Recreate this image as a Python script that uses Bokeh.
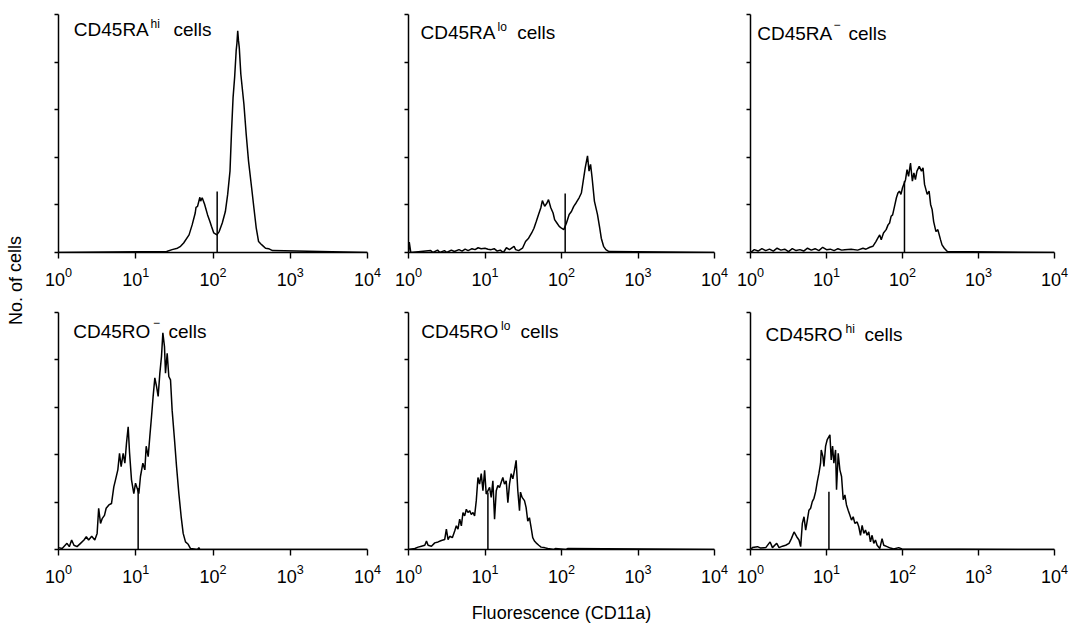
from bokeh.plotting import figure
from bokeh.layouts import row, column
from bokeh.models import Range1d, FixedTicker, Label
from bokeh.embed import file_html
from bokeh.resources import INLINE
from bokeh.core.properties import value

# ---------------- data ----------------
x_tick_values = [1, 10, 100, 1000, 10000]
y_tick_values = [0, 1, 2, 3, 4, 5]

panel_names = ["CD45RA", "CD45RA", "CD45RA", "CD45RO", "CD45RO", "CD45RO"]
panel_sups = ["hi", "lo", "\u2212", "\u2212", "lo", "hi"]
panel_suffix = "cells"
x_axis_title = "Fluorescence (CD11a)"
y_axis_title = "No. of cells"

# channel position in decades (log10 fluorescence) and cell counts (in y-tick units)
ra_hi_logfl = [0.0, 1.40, 1.47, 1.54, 1.58, 1.62, 1.69, 1.73, 1.77, 1.78, 1.80, 1.83,
               1.84, 1.86, 1.89, 1.93, 1.96, 1.98, 2.01, 2.05, 2.08, 2.12, 2.16, 2.19,
               2.22, 2.24, 2.26, 2.28, 2.30, 2.31, 2.32, 2.33, 2.34, 2.36, 2.40, 2.43,
               2.46, 2.50, 2.53, 2.56, 2.59, 2.62, 2.64, 2.68, 2.72, 2.77, 4.0]
ra_hi_count = [0.0, 0.02, 0.06, 0.09, 0.13, 0.20, 0.37, 0.58, 0.83, 0.95, 0.97, 1.16,
               1.08, 1.15, 1.02, 0.79, 0.65, 0.55, 0.41, 0.37, 0.44, 0.62, 0.86, 1.22,
               1.71, 2.55, 3.26, 3.68, 4.24, 4.40, 4.66, 4.45, 4.31, 3.75, 3.12, 2.48,
               1.92, 1.36, 0.93, 0.51, 0.23, 0.18, 0.15, 0.09, 0.08, 0.04, 0.0]

ra_lo_logfl = [0.0, 0.01, 0.03, 0.29, 0.32, 0.38, 0.41, 0.47, 0.50, 0.56,
               0.60, 0.66, 0.70, 0.74, 0.78, 0.83, 0.87, 0.91, 0.95, 1.00,
               1.04, 1.08, 1.12, 1.16, 1.20, 1.24, 1.28, 1.32,
               1.38, 1.40, 1.44, 1.49, 1.53, 1.57, 1.61, 1.64, 1.67, 1.70,
               1.73, 1.75, 1.78, 1.81, 1.83, 1.86, 1.89, 1.91, 1.94, 1.97,
               2.00, 2.03, 2.065, 2.10, 2.13, 2.16, 2.19, 2.23, 2.26, 2.29,
               2.31, 2.34, 2.36, 2.38, 2.40, 2.43, 2.47, 2.50, 2.52, 2.55,
               2.58, 2.62, 4.0]
ra_lo_count = [0.0, 0.22, 0.0, 0.04, 0.0, 0.05, 0.0, 0.04, 0.0, 0.05,
               0.02, 0.06, 0.03, 0.07, 0.04, 0.08, 0.06, 0.10, 0.08, 0.09,
               0.07, 0.06, 0.08, 0.03, 0.05, 0.0, 0.10, 0.06,
               0.13, 0.06, 0.04, 0.09, 0.23, 0.30, 0.41, 0.51, 0.65, 0.80,
               0.94, 1.09, 0.97, 1.04, 1.11, 0.94, 0.83, 0.69, 0.62, 0.55,
               0.51, 0.48, 0.62, 0.80, 0.86, 0.97, 1.04, 1.15, 1.25, 1.57,
               1.78, 2.03, 1.71, 1.85, 1.57, 1.08, 0.80, 0.51, 0.30, 0.13,
               0.06, 0.02, 0.0]

ra_neg_logfl = [0.0, 0.05, 0.10, 0.15, 0.20, 0.25, 0.30, 0.35, 0.40, 0.45,
                0.50, 0.55, 0.60, 0.65, 0.70, 0.75, 0.80, 0.85, 0.90, 0.95,
                1.00, 1.05, 1.10, 1.15, 1.20, 1.24,
                1.325, 1.41, 1.48, 1.52, 1.57, 1.61, 1.65, 1.675, 1.70, 1.72,
                1.75, 1.785, 1.81, 1.83, 1.85, 1.87, 1.895, 1.92, 1.94, 1.96,
                1.98, 2.00, 2.04, 2.06, 2.08, 2.105, 2.13, 2.15, 2.17, 2.19,
                2.22, 2.25, 2.27, 2.29, 2.325, 2.35, 2.37, 2.39, 2.41, 2.44,
                2.465, 2.50, 2.52, 2.55, 2.59, 4.0]
ra_neg_count = [0.0, 0.06, 0.03, 0.08, 0.04, 0.07, 0.03, 0.09, 0.05, 0.07,
                0.02, 0.08, 0.04, 0.06, 0.03, 0.09, 0.05, 0.08, 0.04, 0.11,
                0.06, 0.07, 0.04, 0.08, 0.05, 0.06,
                0.07, 0.05, 0.09, 0.07, 0.11, 0.13, 0.23, 0.30, 0.37, 0.27,
                0.41, 0.48, 0.58, 0.62, 0.76, 0.79, 0.97, 1.15, 1.25, 1.29,
                1.22, 1.36, 1.53, 1.74, 1.60, 1.88, 1.50, 1.67, 1.53, 1.71,
                1.81, 1.71, 1.78, 1.43, 1.22, 1.29, 1.01, 0.90, 0.65, 0.44,
                0.48, 0.27, 0.16, 0.09, 0.02, 0.0]

ro_neg_logfl = [0.0, 0.047, 0.11, 0.14, 0.17, 0.20, 0.24, 0.285, 0.33, 0.36,
                0.39, 0.43, 0.47, 0.50, 0.52, 0.544, 0.565, 0.595, 0.617, 0.652,
                0.686, 0.716, 0.738, 0.768, 0.79, 0.811, 0.837, 0.859, 0.88, 0.902,
                0.919, 0.945, 0.975, 0.997, 1.04, 1.061, 1.092, 1.118, 1.135, 1.161,
                1.182, 1.204, 1.225, 1.247, 1.269, 1.29, 1.312, 1.333, 1.351, 1.372,
                1.385, 1.407, 1.428, 1.45, 1.471, 1.502, 1.528, 1.558, 1.588, 1.614,
                1.644, 1.679, 1.709, 1.80, 1.817, 1.83, 4.0]
ro_neg_count = [0.04, 0.02, 0.13, 0.06, 0.20, 0.09, 0.06, 0.13, 0.20, 0.27,
                0.20, 0.28, 0.20, 0.34, 0.87, 0.55, 0.65, 0.72, 0.87, 0.94,
                0.97, 1.32, 1.47, 1.68, 2.03, 1.75, 2.03, 1.82, 2.24, 2.59,
                2.06, 1.47, 1.18, 1.40, 1.18, 1.54, 1.82, 1.68, 2.18, 1.96,
                2.38, 2.80, 3.23, 3.62, 3.44, 3.23, 3.72, 4.07, 4.57, 4.28,
                3.72, 4.14, 3.65, 3.58, 2.94, 2.31, 1.75, 1.18, 0.69, 0.34,
                0.16, 0.11, 0.02, 0.0, 0.04, 0.0, 0.0]

ro_lo_logfl = [0.0, 0.083, 0.126, 0.169, 0.213, 0.235, 0.256, 0.30, 0.343, 0.387,
               0.43, 0.473, 0.495, 0.517, 0.539, 0.573, 0.604, 0.625, 0.647, 0.669,
               0.691, 0.712, 0.734, 0.756, 0.777, 0.799, 0.821, 0.843, 0.864, 0.886,
               0.908, 0.929, 0.951, 0.973, 0.995, 1.016, 1.06, 1.081, 1.103, 1.125,
               1.147, 1.168, 1.19, 1.212, 1.233, 1.255, 1.277, 1.299, 1.32, 1.342,
               1.364, 1.385, 1.407, 1.429, 1.451, 1.464, 1.485, 1.516, 1.537, 1.559,
               1.581, 1.603, 1.624, 1.646, 1.668, 1.703, 1.733, 1.776, 1.82, 1.90,
               1.92, 2.06, 2.08, 4.0]
ro_lo_count = [0.0, 0.02, 0.05, 0.07, 0.09, 0.18, 0.09, 0.07, 0.14, 0.16,
               0.19, 0.21, 0.43, 0.21, 0.28, 0.25, 0.39, 0.50, 0.43, 0.64,
               0.50, 0.78, 0.71, 0.85, 0.78, 0.82, 0.74, 0.78, 0.71, 1.03,
               1.52, 1.38, 1.60, 1.24, 1.67, 1.17, 1.31, 1.10, 1.45, 0.64,
               1.24, 1.35, 1.31, 1.42, 1.52, 1.38, 1.45, 0.99, 1.38, 1.60,
               1.49, 1.67, 1.88, 1.24, 0.82, 1.21, 1.10, 1.03, 0.89, 0.60,
               0.67, 0.46, 0.25, 0.18, 0.14, 0.09, 0.05, 0.04, 0.02, 0.0,
               0.02, 0.0, 0.02, 0.0]

ro_hi_logfl = [0.0, 0.026, 0.092, 0.135, 0.201, 0.258, 0.289, 0.345, 0.376, 0.42,
               0.463, 0.507, 0.538, 0.573, 0.608, 0.638, 0.66, 0.682, 0.704, 0.726,
               0.748, 0.769, 0.791, 0.813, 0.835, 0.857, 0.879, 0.901, 0.922, 0.931,
               0.953, 0.966, 0.988, 1.01, 1.045, 1.062, 1.08, 1.097, 1.119, 1.132,
               1.154, 1.176, 1.198, 1.22, 1.242, 1.263, 1.285, 1.307, 1.329, 1.351,
               1.373, 1.403, 1.425, 1.447, 1.469, 1.491, 1.513, 1.534, 1.556, 1.578,
               1.60, 1.622, 1.644, 1.666, 1.701, 1.731, 1.753, 1.797, 1.84, 1.884,
               1.95, 1.993, 4.0]
ro_hi_count = [0.0, 0.04, 0.06, 0.03, 0.04, 0.16, 0.04, 0.13, 0.04, 0.07,
               0.09, 0.13, 0.23, 0.37, 0.27, 0.20, 0.06, 0.55, 0.69, 0.41,
               0.62, 0.83, 0.87, 1.01, 1.08, 1.22, 1.43, 1.61, 1.82, 2.10,
               1.96, 1.75, 2.18, 2.32, 2.42, 1.89, 2.18, 1.82, 2.10, 1.26,
               2.03, 1.68, 1.54, 1.05, 1.15, 0.94, 0.83, 0.73, 0.62, 0.69,
               0.55, 0.58, 0.48, 0.30, 0.51, 0.34, 0.41, 0.30, 0.37, 0.16,
               0.30, 0.13, 0.20, 0.09, 0.02, 0.23, 0.09, 0.06, 0.03, 0.01,
               0.04, 0.01, 0.0]

panel_logfl = [ra_hi_logfl, ra_lo_logfl, ra_neg_logfl, ro_neg_logfl, ro_lo_logfl, ro_hi_logfl]
panel_count = [ra_hi_count, ra_lo_count, ra_neg_count, ro_neg_count, ro_lo_count, ro_hi_count]

# marker line (channel position in decades, height in y-tick units)
marker_logfl = [2.054, 2.048, 2.026, 1.031, 1.038, 1.032]
marker_height = [1.28, 1.24, 1.50, 1.30, 1.20, 1.22]

# ---------------- layout (pixels in page) ----------------
FONT = "Liberation Sans"
left_w = 34
col_left = [58, 408, 750]
col_frame_w = [309, 306, 304]
col_border_l = [24, 20, 17]
col_border_r = [21, 19, 20]
row_top = [14, 312]
row_frame_h = [238, 237]
row_border_t = [14, 16]
row_border_b = [44, 76]

# title pieces: (main x, sup x, suffix x, baseline y, sup rise) in page pixels
title_pos = [(73.3, 150.0, 173.0, 29.3, 5.5),
             (420.0, 497.0, 516.7, 31.5, 5.0),
             (756.7, 833.0, 848.0, 33.0, 9.0),
             (72.7, 152.5, 168.0, 330.7, 9.0),
             (420.7, 500.5, 520.0, 330.7, 5.0),
             (765.0, 845.0, 864.0, 334.0, 5.5)]

figs = []
for i in range(6):
    r, c = divmod(i, 3)
    w = col_border_l[c] + col_frame_w[c] + col_border_r[c]
    h = row_border_t[r] + row_frame_h[r] + row_border_b[r]
    p = figure(width=w, height=h, x_axis_type="log",
               x_range=Range1d(1, 10000), y_range=Range1d(0, 5),
               min_border_left=col_border_l[c], min_border_right=col_border_r[c],
               min_border_top=row_border_t[r], min_border_bottom=row_border_b[r],
               toolbar_location=None, output_backend="svg")
    p.outline_line_color = None
    p.grid.visible = False
    p.background_fill_color = "white"

    xa = p.xaxis[0]
    xa.ticker = FixedTicker(ticks=x_tick_values, minor_ticks=[])
    xa.major_tick_in = 0
    xa.major_tick_out = 6
    xa.major_tick_line_width = 1.4
    xa.minor_tick_line_color = None
    xa.axis_line_width = 1.5
    xa.axis_line_color = "black"
    xa.major_tick_line_color = "black"
    xa.major_label_text_font = FONT
    xa.major_label_text_font_size = "18px"
    xa.major_label_text_color = "black"
    xa.major_label_standoff = 8

    ya = p.yaxis[0]
    ya.ticker = FixedTicker(ticks=y_tick_values, minor_ticks=[])
    ya.major_label_overrides = {float(t): "" for t in y_tick_values}
    ya.major_tick_in = 0
    ya.major_tick_out = 4
    ya.major_tick_line_width = 1.3
    ya.minor_tick_line_color = None
    ya.axis_line_width = 1.5
    ya.axis_line_color = "black"
    ya.major_tick_line_color = "black"

    xs = [10 ** d for d in panel_logfl[i]]
    p.line(xs, panel_count[i], line_color="black", line_width=1.5)
    mx = 10 ** marker_logfl[i]
    p.segment(x0=[mx], y0=[0], x1=[mx], y1=[marker_height[i]],
              line_color="black", line_width=1.5)

    # title
    unit = col_frame_w[c] / 4.0
    fb = row_top[r] + row_frame_h[r]
    def dx(px):
        return 10 ** ((px - col_left[c]) / unit)
    def dy(py):
        return 5.0 * (fb - py) / row_frame_h[r]
    mxp, sxp, cxp, by, rise = title_pos[i]
    p.add_layout(Label(x=dx(mxp), y=dy(by), text=panel_names[i],
                       text_font=FONT, text_font_size="19px",
                       text_baseline="alphabetic", text_align="left", text_color="black"))
    p.add_layout(Label(x=dx(sxp), y=dy(by - rise), text=panel_sups[i],
                       text_font=FONT, text_font_size="12px",
                       text_baseline="alphabetic", text_align="left", text_color="black"))
    p.add_layout(Label(x=dx(cxp), y=dy(by), text=panel_suffix,
                       text_font=FONT, text_font_size="19px",
                       text_baseline="alphabetic", text_align="left", text_color="black"))
    figs.append(p)

# x axis title on the bottom-middle panel
xa5 = figs[4].xaxis[0]
xa5.axis_label = x_axis_title
xa5.axis_label_text_font = FONT
xa5.axis_label_text_font_size = "18px"
xa5.axis_label_text_font_style = "normal"
xa5.axis_label_text_color = "black"
xa5.axis_label_standoff = 17

# left strip carrying the y title
total_h = sum(row_border_t) + sum(row_frame_h) + sum(row_border_b)
lp = figure(width=left_w, height=total_h, x_range=Range1d(0, left_w),
            y_range=Range1d(0, total_h), min_border=0,
            toolbar_location=None, output_backend="svg")
lp.axis.visible = False
lp.grid.visible = False
lp.outline_line_color = None
lp.add_layout(Label(x=15, y=total_h - 280, text=y_axis_title, angle=1.5708,
                    text_font=FONT, text_font_size="18px", text_align="center",
                    text_baseline="middle", text_color="black"))

layout = row(lp, column(row(figs[0], figs[1], figs[2]), row(figs[3], figs[4], figs[5])))

open("out.html", "w").write(file_html(layout, INLINE))
